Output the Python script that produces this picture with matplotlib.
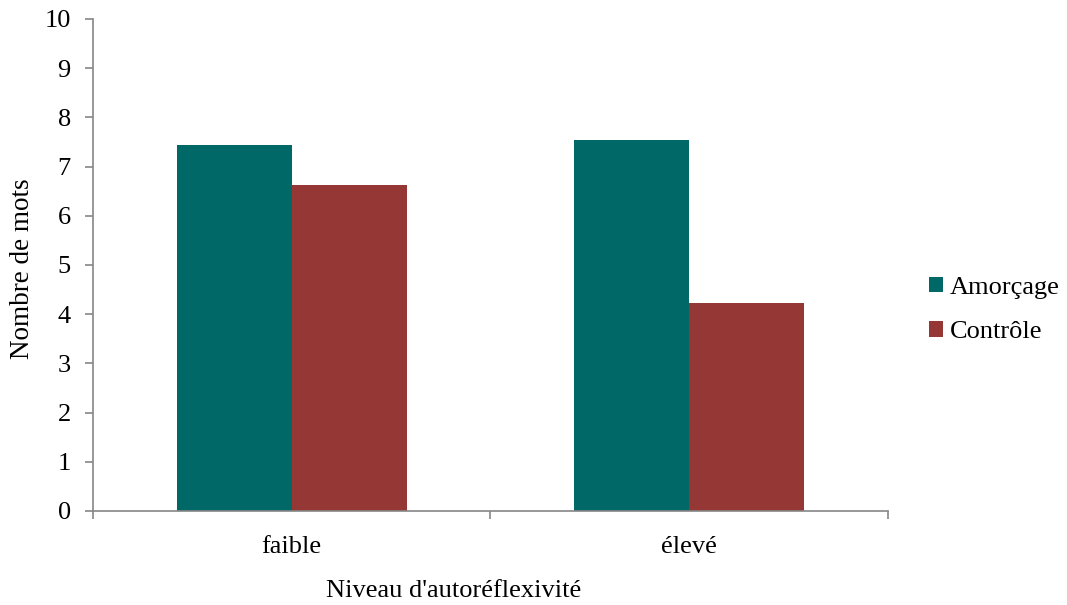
import matplotlib
matplotlib.use("Agg")
import matplotlib.pyplot as plt
import numpy as np

categories = ["faible", "élevé"]
series_names = ["Amorçage", "Contrôle"]
amorcage = [7.43, 7.55]
controle = [6.63, 4.23]
colors = ["#006866", "#953735"]

plt.rcParams['font.family'] = ['Liberation Serif', 'DejaVu Serif']

fig = plt.figure(figsize=(10.67, 6.05), dpi=100)
ax = fig.add_axes([0.0872, 0.1554, 0.7450, 0.8132])

x = np.arange(len(categories))
w = 0.29
ax.bar(x - w/2, amorcage, w, color=colors[0], label=series_names[0])
ax.bar(x + w/2, controle, w, color=colors[1], label=series_names[1])

ax.set_xlim(-0.5, len(categories) - 0.5)
ax.set_ylim(0, 10)
ax.set_yticks(range(0, 11))
ax.set_xticks(x)
ax.set_xticklabels(categories)
ax.set_xticks(np.arange(-0.5, len(categories)), minor=True)

fs = 19
axis_col = "#868686"
for s in ["top", "right"]:
    ax.spines[s].set_visible(False)
for s in ["left", "bottom"]:
    ax.spines[s].set_color(axis_col)
    ax.spines[s].set_linewidth(1.2)
ax.tick_params(axis='y', direction='out', length=6, color=axis_col, width=1.2, labelsize=fs, pad=10)
ax.tick_params(axis='x', which='major', length=0, labelsize=fs, pad=18)
ax.tick_params(axis='x', which='minor', direction='out', length=6, color=axis_col, width=1.2)

fig.text(23 / 1067, 1 - 269 / 605, "Nombre de mots", rotation=90, fontsize=fs + 0.5,
         ha='center', va='center')
fig.text(454 / 1067, 1 - 591 / 605, "Niveau d'autoréflexivité", fontsize=fs,
         ha='center', va='center')

leg = fig.legend(loc='center left', bbox_to_anchor=(929 / 1067, 1 - 310 / 605), frameon=False,
                 fontsize=fs, handlelength=0.53, handleheight=0.53, handletextpad=0.25,
                 labelspacing=0.85, borderpad=0, borderaxespad=0)

fig.savefig("out.png", dpi=100)
